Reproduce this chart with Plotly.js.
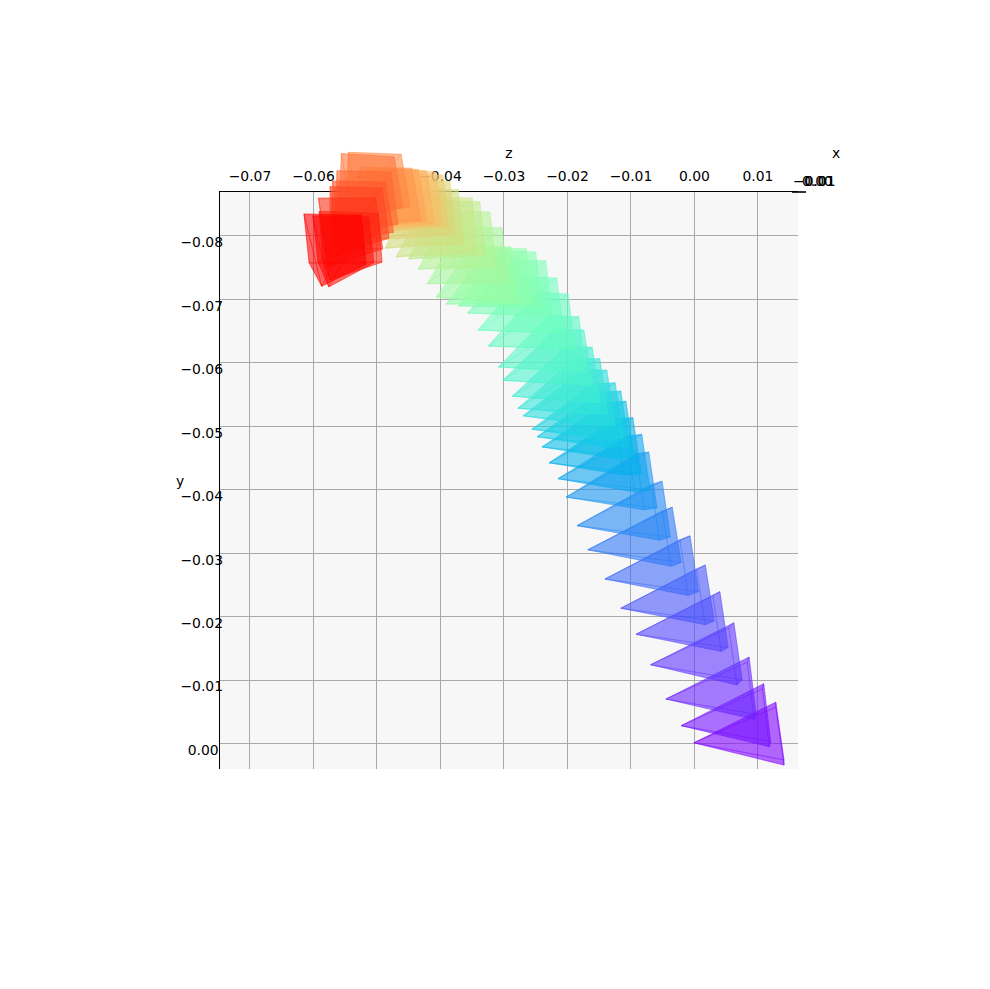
<!DOCTYPE html>
<html>
<head>
<meta charset="utf-8">
<script src="https://cdn.plot.ly/plotly-3.0.1.min.js"></script>
<style>html,body{margin:0;padding:0;background:#fff}</style>
</head>
<body>
<div id="chart" style="width:990px;height:989px"></div>
<script>
// All pose values below are in units of 1e-4 axis units
const UNIT = 1e-4;
// apex of each camera pyramid
const apexZ = [-1,-21,-45,-69,-92,-116,-141,-168,-185,-202,-215,-229,-240,-248,-256,-270,-278,-287,-302,-309,-325,-341,-357,-372,-391,-407,-421,-435,-450,-470,-487,-495,-508,-514,-524,-531,-539,-550,-561,-568,-571,-574,-577,-574,-576,-587];
const apexY = [-1,-28,-70,-124,-172,-213,-259,-305,-343,-388,-417,-442,-467,-483,-495,-516,-528,-547,-572,-593,-626,-651,-678,-689,-692,-703,-724,-747,-763,-766,-780,-793,-806,-806,-809,-812,-815,-831,-821,-799,-785,-765,-750,-730,-719,-720];
// first corner of each pyramid base
const cornerZ = [128,109,86,62,40,17,-7,-35,-51,-72,-83,-97,-108,-116,-125,-138,-149,-161,-174,-182,-199,-217,-234,-250,-265,-289,-303,-322,-338,-350,-372,-385,-396,-408,-422,-435,-445,-462,-473,-478,-487,-492,-502,-498,-513,-525];
const cornerY = [-65,-94,-136,-190,-239,-281,-327,-372,-413,-459,-487,-513,-539,-555,-568,-588,-606,-624,-651,-672,-708,-733,-760,-774,-779,-782,-812,-837,-853,-859,-872,-885,-895,-900,-902,-904,-906,-928,-924,-900,-884,-875,-859,-835,-829,-832];
// base edge vectors
const edgeUZ = [0,-2,-3,-8,-11,-14,-16,-16,-17,-20,-24,-27,-30,-33,-35,-38,-39,-41,-44,-47,-49,-52,-55,-57,-58,-60,-63,-65,-68,-69,-71,-72,-72,-76,-79,-80,-82,-83,-83,-85,-83,-82,-90,-93,-88,-90];
const edgeUY = [8,8,8,8,6,6,6,6,5,3,3,2,2,2,2,0,0,-2,-2,-2,-2,-2,-2,-2,-2,-2,-2,-2,-2,-2,-2,-2,-3,-3,-3,-2,-2,-3,-5,-2,-2,-2,0,-3,-2,-2];
const edgeVZ = [13,11,11,13,13,14,13,14,13,13,13,13,13,13,13,13,13,13,13,11,11,11,9,9,9,9,9,9,8,6,8,8,8,11,13,14,14,14,14,11,13,11,11,6,8,8];
const edgeVY = [91,91,90,90,88,88,88,87,88,88,88,88,88,87,87,87,87,87,87,87,87,87,87,87,87,87,87,87,85,85,85,83,82,83,83,82,82,83,80,82,79,79,80,77,72,77];

const yTickVals = [0,-0.01,-0.02,-0.03,-0.04,-0.05,-0.06,-0.07,-0.08];
const yTickText = ['0.00\u00A0','\u22120.01','\u22120.02','\u22120.03','\u22120.04','\u22120.05','\u22120.06','\u22120.07','\u22120.08'];
const xTickVals = [-0.07,-0.06,-0.05,-0.04,-0.03,-0.02,-0.01,0,0.01];
const xTickText = ['\u22120.07','\u22120.06','\u22120.05','\u22120.04','\u22120.03','\u22120.02','\u22120.01','0.00','0.01'];
const cornerLabels = ['\u22120.01','0.00','0.01'];

const FILL_ALPHA = 0.36, LINE_ALPHA = 0.3;

function rainbow(t){
  const c = v => Math.round(255*Math.max(0,Math.min(1,v)));
  return [c(Math.abs(2*t-0.5)), c(Math.sin(Math.PI*t)), c(Math.cos(Math.PI*t/2))];
}

const N = apexZ.length;
const traces = [];
// label carrier for the offset y tick labels
traces.push({type:'scatter',mode:'lines',x:[null],y:[null],xaxis:'x',yaxis:'y2',hoverinfo:'skip',showlegend:false});
// carrier that keeps the gridded subplot alive
traces.push({type:'scatter',mode:'lines',x:[null],y:[null],xaxis:'x',yaxis:'y',hoverinfo:'skip',showlegend:false});
for (let i=0;i<N;i++){
  const [r,g,b] = rainbow(i/(N-1));
  const a = [apexZ[i],apexY[i]];
  const c1 = [cornerZ[i],cornerY[i]];
  const c2 = [c1[0]+edgeUZ[i],c1[1]+edgeUY[i]];
  const c3 = [c2[0]+edgeVZ[i],c2[1]+edgeVY[i]];
  const c4 = [c1[0]+edgeVZ[i],c1[1]+edgeVY[i]];
  const faces = [[a,c1,c2],[a,c2,c3],[a,c3,c4],[a,c4,c1],[c1,c2,c3,c4]];
  faces.forEach(f=>{
    const xs = f.map(p=>p[0]*UNIT), ys = f.map(p=>p[1]*UNIT);
    xs.push(xs[0]); ys.push(ys[0]);
    traces.push({
      type:'scatter',mode:'lines',x:xs,y:ys,xaxis:'x3',yaxis:'y3',fill:'toself',cliponaxis:false,
      fillcolor:`rgba(${r},${g},${b},${FILL_ALPHA})`,
      line:{color:`rgba(${r},${g},${b},${LINE_ALPHA})`,width:1},
      hoverinfo:'skip',showlegend:false
    });
  });
}

const font = {family:'DejaVu Sans',size:13.9,color:'#000'};
const note = (text,x,y)=>({text,x,y,xref:'paper',yref:'paper',showarrow:false,xanchor:'center',yanchor:'middle',font});
const TOP = 577/669;
const cornerOffsets = [1.0294,1.0346,1.0372];

const layout = {
  width:990,height:989,
  margin:{l:220,r:192,t:100,b:220,pad:0},
  paper_bgcolor:'#fff',plot_bgcolor:'rgba(0,0,0,0)',
  font,
  showlegend:false,
  xaxis:{
    side:'top',anchor:'y',range:[-0.07472,0.0163],tickmode:'array',tickvals:xTickVals,ticktext:xTickText,
    ticks:'',showgrid:true,gridcolor:'#a9a9a9',gridwidth:1,zeroline:false,
    showline:true,linecolor:'#000',linewidth:1.4,layer:'below traces',
    tickfont:font,ticklabelstandoff:4,
    title:{text:'z',font,standoff:6}
  },
  yaxis:{
    domain:[0,TOP],anchor:'x',range:[0.00402,-0.0869],tickmode:'array',tickvals:yTickVals,showticklabels:false,
    ticks:'',showgrid:true,gridcolor:'#a9a9a9',gridwidth:1,zeroline:false,
    showline:true,linecolor:'#000',linewidth:1.4,layer:'below traces'
  },
  yaxis2:{
    domain:[0,TOP],overlaying:'y',side:'left',anchor:'x',range:[0.0030,-0.08795],
    tickmode:'array',tickvals:yTickVals,ticktext:yTickText,ticks:'',
    showgrid:false,zeroline:false,showline:false,tickfont:font,layer:'below traces',ticklabelstandoff:-4
  },
  xaxis3:{domain:[0,1],anchor:'y3',range:[-0.07472,0.0163],visible:false},
  yaxis3:{domain:[0,1],anchor:'x3',range:[0.00402,-0.10134],visible:false},
  shapes:[
    {type:'rect',xref:'paper',yref:'paper',x0:0,x1:1,y0:0,y1:TOP,fillcolor:'#f7f7f7',line:{width:0},layer:'below'},
    {type:'line',xref:'paper',yref:'paper',x0:0.9896,x1:1.0138,y0:TOP,y1:TOP,line:{color:'#333',width:2},layer:'below'}
  ],
  annotations:[
    note('y',-0.0692,0.4305),
    note('x',1.0657,0.9208)
  ].concat(cornerLabels.map((t,i)=>note(t,cornerOffsets[i],0.8789)))
};
Plotly.newPlot('chart',traces,layout,{displayModeBar:false,staticPlot:true});
</script>
</body>
</html>
